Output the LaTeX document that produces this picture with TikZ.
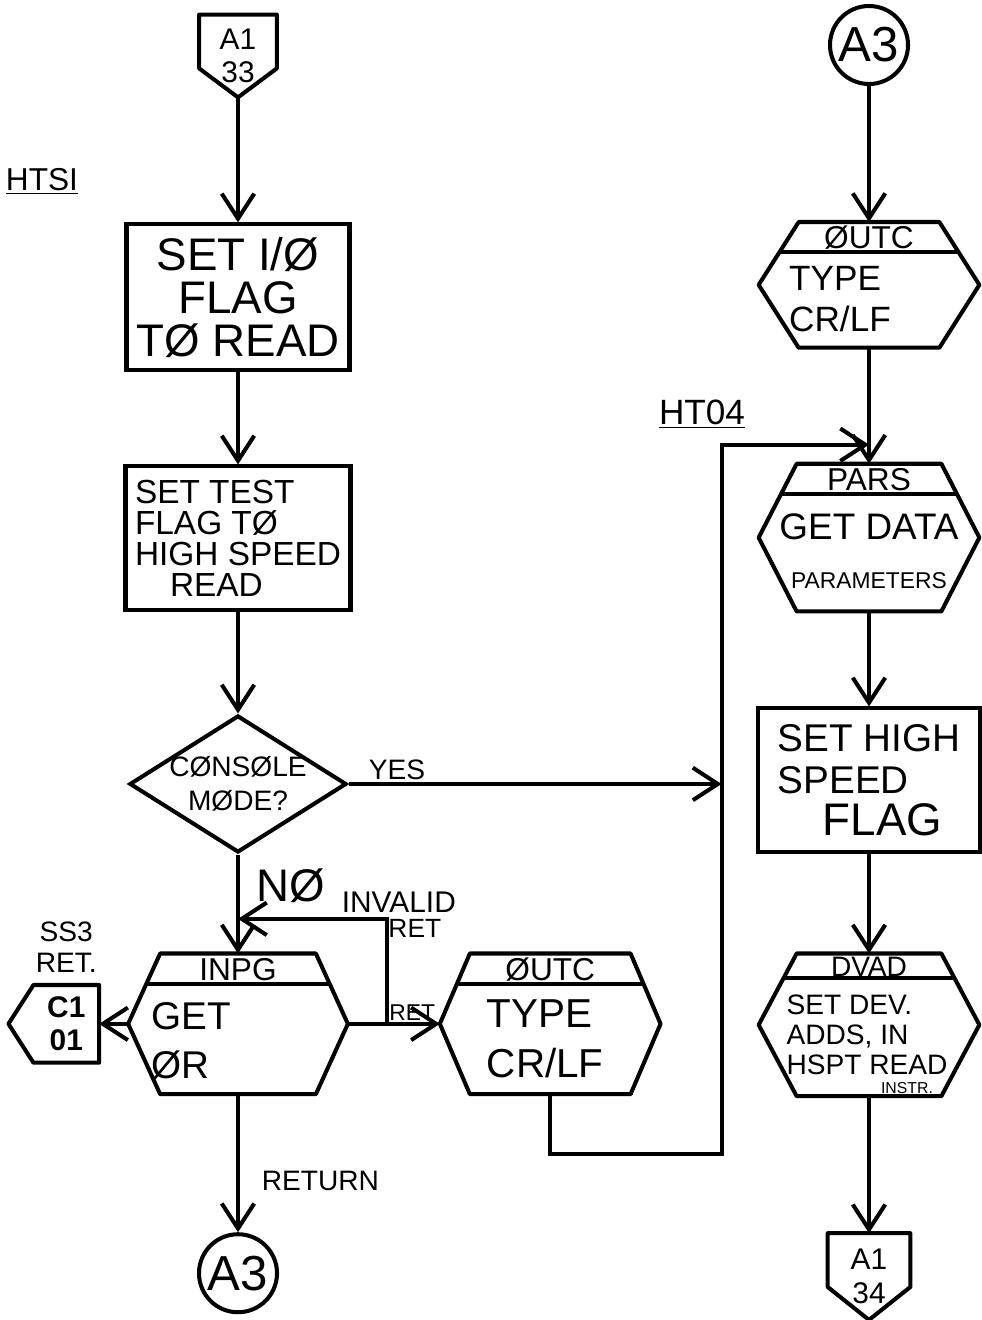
\documentclass[tikz,border=0pt]{standalone}
\usepackage{fontspec}
\setmainfont{Liberation Sans}
\usepackage{tikz}
\usetikzlibrary{positioning,arrows.meta,calc,shapes.geometric}

\begin{document}
\begin{tikzpicture}[
  x=0.2mm, y=-0.2mm,
  >={Straight Barb[length=5mm,width=6.5mm]},
  % --- hand-drawn flow chart look: heavy black strokes ---
  base/.style   ={draw,line width=2.3pt,align=center,inner sep=1pt},
  procbox/.style={base,minimum width=44.6mm,minimum height=29.2mm},
  decide/.style ={draw,line width=2.3pt,diamond,aspect=1.58,inner sep=0pt,
                  minimum width=43.4mm,minimum height=27.4mm},
  hexf/.style   ={inner sep=0pt,minimum width=44mm,minimum height=28mm},
  frame/.style  ={draw,line width=2.3pt,line join=round},
  conn/.style   ={circle,draw,line width=2.3pt,minimum size=15.6mm,inner sep=0pt,
                  font=\fontsize{28}{28}\selectfont},
  offpg/.style  ={inner sep=0pt,align=center,minimum width=15.4mm,minimum height=16.4mm,
                  font=\fontsize{17}{19}\selectfont},
  hdr/.style    ={inner sep=0pt,font=\fontsize{18}{18}\selectfont},
  body/.style   ={inner sep=0pt,align=left},
  lbl/.style    ={inner sep=1pt,align=center,font=\fontsize{16}{18}\selectfont},
  flow/.style   ={->,line width=2.3pt},
]
\useasboundingbox (0,0) rectangle (981,1320);

% ============================ left column ============================
\node[offpg] (ofa) at (238,56) {A1\\33};
\node[procbox,below=25mm of ofa,font=\fontsize{26}{24.5}\selectfont] (setio)
  {SET I/Ø\\FLAG\\TØ READ};
\node[procbox,below=18.4mm of setio,minimum width=45mm,minimum height=28.8mm,
      align=left,font=\fontsize{19}{17.6}\selectfont] (settest)
  {SET TEST\\FLAG TØ\\HIGH SPEED\\\hspace{7mm}READ};
\node[decide,below=20.2mm of settest] (dia) {};
\node[body,align=center,font=\fontsize{16}{19}\selectfont] (diat) at (dia.center)
  {CØNSØLE\\MØDE?};
\node[hexf,below=19.8mm of dia,minimum width=43.8mm] (inpg) {};
\node[conn,below=27.6mm of inpg] (a3b) {A3};
\node[hexf,right=18.4mm of inpg] (outcb) {};
\node[offpg,left=5.8mm of inpg,minimum width=13mm,minimum height=15.4mm,
      font=\bfseries\fontsize{17}{19}\selectfont] (cpg) {C1\\01};
\node[lbl,above=2mm of cpg] (ss3) {SS3\\RET.};

% ============================ right column ===========================
\node[conn] (a3t) at (869,45) {A3};
\node[hexf,below=27.2mm of a3t,minimum height=25mm] (outca) {};
\node[hexf,below=23.2mm of outca,minimum height=29.4mm] (pars) {};
\node[procbox,below=19mm of pars,minimum width=44.4mm,minimum height=28.8mm,
      align=left,font=\fontsize{22}{24}\selectfont] (sethigh)
  {SET HIGH\\SPEED\\\hspace{9mm}{\fontsize{26}{24}\selectfont FLAG}};
\node[hexf,below=19.8mm of sethigh,minimum height=28.4mm] (dvad) {};
\node[offpg,below=27.4mm of dvad,minimum width=16.4mm,minimum height=17.2mm] (ofb) {A1\\34};

% ====================== outlines of the special boxes =================
\foreach \h/\d/\f in {inpg/32/0.43,outcb/30/0.43,outca/40/0.48,pars/38/0.41,dvad/38/0.35}{
  \draw[frame] ($(\h.north west)+(\d,0)$) coordinate (tl)
    -- ($(\h.north east)+(-\d,0)$) coordinate (tr) -- (\h.east)
    -- ($(\h.south east)+(-\d,0)$) -- ($(\h.south west)+(\d,0)$) -- (\h.west) -- cycle;
  \draw[frame] ($(tl)!\f!(\h.west)$) -- ($(tr)!\f!(\h.east)$);
}
\foreach \o/\s in {ofa/0.65,ofb/0.62}{
  \draw[frame] (\o.north west) -- (\o.north east) -- ($(\o.north east)!\s!(\o.south east)$)
    -- (\o.south) -- ($(\o.north west)!\s!(\o.south west)$) -- cycle;
}
\draw[frame] (cpg.north east) -- (cpg.south east) -- (cpg.south west)
  -- ($(cpg.west)+(-25,0)$) -- (cpg.north west) -- cycle;

% ============================ box texts ==============================
\node[hdr] (inpgh)  at ($(inpg.north)+(0,16)$)  {INPG};
\node[hdr] (outcbh) at ($(outcb.north)+(0,16)$) {ØUTC};
\node[hdr] (outcah) at ($(outca.north)+(0,16)$) {ØUTC};
\node[hdr] (parsh)  at ($(pars.north)+(0,16)$)  {PARS};
\node[hdr,font=\fontsize{16}{16}\selectfont] (dvadh) at ($(dvad.north)+(0,13)$) {DVAD};

\node[body,font=\fontsize{22}{28}\selectfont] (inpgb) at ($(inpg.center)+(-47,17)$) {GET\\ØR};
\node[body,font=\fontsize{23}{28}\selectfont] (outcbb) at ($(outcb.center)+(-5,15)$) {TYPE\\CR/LF};
\node[body,font=\fontsize{20}{23}\selectfont] (outcab) at ($(outca.center)+(-29,14)$) {TYPE\\CR/LF};
\node[body,align=center,font=\fontsize{21}{28}\selectfont] (parsb) at ($(pars.center)+(0,14)$)
  {GET DATA\\{\fontsize{13}{28}\selectfont PARAMETERS}};
\node[body,font=\fontsize{16}{17}\selectfont] (dvadb) at ($(dvad.center)+(-2,10)$)
  {SET DEV.\\ADDS, IN\\HSPT READ};
\node[inner sep=0pt,font=\fontsize{9}{9}\selectfont] (instr) at ($(dvad.south)+(38,-8)$) {INSTR.};

% ============================ side labels ============================
\node[lbl,font=\fontsize{18}{18}\selectfont] (htsi) at (42,181) {\underline{HTSI}};
\node[lbl,font=\fontsize{20}{20}\selectfont] (ht04) at (702,414) {\underline{HT04}};

% ============================ forward flow ===========================
\draw[flow] (ofa.south) -- (setio);
\draw[flow] (setio) -- (settest);
\draw[flow] (settest) -- (dia);
\draw[flow] (dia) -- node[lbl,anchor=west,pos=0.32,xshift=3mm,font=\fontsize{26}{26}\selectfont]{NØ} (inpg);
\draw[flow] (inpg) -- node[lbl,anchor=west,pos=0.63,xshift=4mm]{RETURN} (a3b);
\draw[flow] (inpg) -- node[lbl,above,pos=0.7,font=\fontsize{13}{13}\selectfont]{RET} (outcb);
\draw[flow] (inpg) -- (cpg);
\draw[flow] (a3t) -- (outca);
\draw[flow] (outca) -- (pars);
\draw[flow] (pars) -- (sethigh);
\draw[flow] (sethigh) -- (dvad);
\draw[flow] (dvad) -- (ofb.north);

% ===================== invalid return loop back ======================
\coordinate (lpb) at ($(inpg.east)+(39,0)$);
\coordinate (lpt) at ($(lpb)+(0,-105)$);
\draw[flow] (lpb) -- (lpt) -- (lpt -| inpg.north);
\node[lbl,font=\fontsize{17}{17}\selectfont] (invl) at ($(lpt)+(12,-17)$) {INVALID};
\node[lbl,font=\fontsize{15}{15}\selectfont] (invr) at ($(lpt)+(28,10)$) {RET};

% ===================== console mode / type return bus ================
\coordinate (busm) at ($(dia.east)+(373,0)$);
\draw[flow] (dia) -- node[lbl,above,pos=0.13]{YES} (busm);
\coordinate (busb) at ($(outcb.south)+(0,60)$);
\coordinate (bust) at ($(outca.south)+(0,97)$);
\draw[flow] (outcb.south) -- (busb) -- (busb -| busm) -- (bust -| busm) -- (bust -| outca.south);

\end{tikzpicture}
\end{document}
